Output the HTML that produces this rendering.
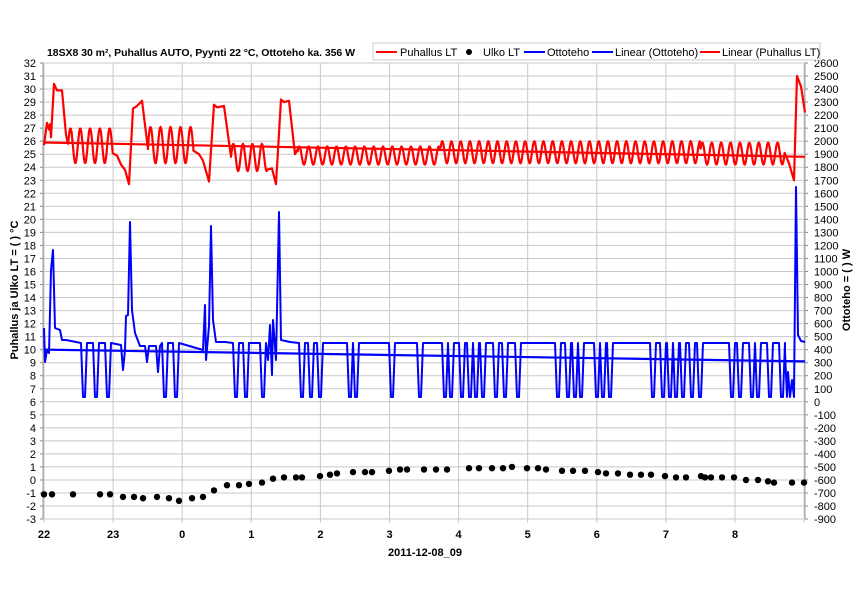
<!DOCTYPE html>
<html><head><meta charset="utf-8"><style>
body{margin:0;background:#fff;}
svg{display:block;font-family:"Liberation Sans",sans-serif;}
</style></head><body>
<svg id="s" width="860" height="608" xmlns="http://www.w3.org/2000/svg">
<rect width="860" height="608" fill="#fff"/>
<g id="grid"></g>
<g id="labels" font-size="11" fill="#000"></g>
<text x="47" y="56" font-size="10.5" font-weight="bold" textLength="308">18SX8 30 m², Puhallus AUTO, Pyynti 22 °C, Ottoteho ka. 356 W</text>
<rect x="373" y="43" width="447" height="17" fill="#fff" stroke="#ccc"/>
<line x1="376" y1="52" x2="397" y2="52" stroke="#f00" stroke-width="2"/><text x="400" y="56" font-size="11">Puhallus LT</text>
<circle cx="469" cy="52" r="3" fill="#000"/><text x="483" y="56" font-size="11">Ulko LT</text>
<line x1="524" y1="52" x2="545" y2="52" stroke="#00f" stroke-width="2"/><text x="547" y="56" font-size="11">Ottoteho</text>
<line x1="592" y1="52" x2="613" y2="52" stroke="#00f" stroke-width="2"/><text x="615" y="56" font-size="11">Linear (Ottoteho)</text>
<line x1="700" y1="52" x2="720" y2="52" stroke="#f00" stroke-width="2"/><text x="722" y="56" font-size="11">Linear (Puhallus LT)</text>
<text transform="translate(18,290) rotate(-90)" text-anchor="middle" font-size="11" font-weight="bold">Puhallus ja Ulko LT = ( ) °C</text>
<text transform="translate(850,290) rotate(-90)" text-anchor="middle" font-size="11" font-weight="bold">Ottoteho = ( ) W</text>
<text x="425" y="556" text-anchor="middle" font-size="11" font-weight="bold">2011-12-08_09</text>
<g id="series"></g>
</svg>
<script>
var NS="http://www.w3.org/2000/svg";
function el(p,t,a,txt){var e=document.createElementNS(NS,t);for(var k in a)e.setAttribute(k,a[k]);if(txt!=null)e.textContent=txt;p.appendChild(e);return e;}
var L=43,R=805,T0=63,PX=13.03;
function yT(t){return T0+(32-t)*PX;}
var g=document.getElementById('grid'),lb=document.getElementById('labels'),s=document.getElementById('series');
for(var i=0;i<=35;i++){var y=T0+i*PX;
 el(g,'line',{x1:L,x2:R,y1:y,y2:y,stroke:'#c8c8c8','stroke-width':1});
 el(g,'line',{x1:L-3,x2:L,y1:y,y2:y,stroke:'#888'});el(g,'line',{x1:R,x2:R+3,y1:y,y2:y,stroke:'#888'});
 el(lb,'text',{x:36,y:y+4,'text-anchor':'end'},String(32-i));
 el(lb,'text',{x:814,y:y+4},String(2600-i*100));}
var hrs=['22','23','0','1','2','3','4','5','6','7','8'];
for(var h=0;h<=11;h++){var x=44+h*69.1;if(x>R)x=R;
 el(g,'line',{x1:x,x2:x,y1:T0,y2:T0+35*PX+4,stroke:'#c8c8c8'});
 if(h<11)el(lb,'text',{x:x,y:538,'text-anchor':'middle','font-weight':'bold'},hrs[h]);}
el(g,'line',{x1:L,x2:L,y1:T0,y2:T0+35*PX,stroke:'#999'});
el(g,'line',{x1:R,x2:R,y1:T0,y2:T0+35*PX,stroke:'#999'});
// red series
var r=[[44,25.7],[47,27.4],[49,26.9],[50,27.3],[51,26.3],[54,30.4],[57,29.9],[62,29.9],[66,26.5],[68,25.8]];
function osc(x0,x1,per,lo,hi,arr){var mid=(lo+hi)/2,a=(hi-lo)/2;for(var x=x0+0.7;x<=x1;x+=0.7){arr.push([x,mid+a*Math.sin((x-x0)/per*2*Math.PI)]);}}
osc(68,113,9.8,24.3,27,r);
r.push([117,24.9],[121,24.2],[125,23.8],[129,22.7],[133,28.5],[137,28.7],[142,29.1],[148,25.4]);
osc(148,194,10,24.3,27.1,r);
r.push([199,25],[203,24.5],[209,22.9],[214,28.8],[217,28.6],[224,28.7],[231,24.8]);
osc(231,268,9.5,23.7,25.8,r);
r.push([272,23.9],[276,22.7],[281,29.2],[284,29],[289,29.1],[295,25],[297,25.3]);
osc(297,440,9.3,24.2,25.6,r);
osc(440,700,9.2,24.3,26.0,r);
osc(700,785,9.4,24.2,25.9,r);
r.push([789,24.3],[794,23],[797,31],[801,30.2],[805,28.2]);
el(s,'polyline',{points:r.map(function(p){return p[0].toFixed(1)+','+yT(p[1]).toFixed(1)}).join(' '),fill:'none',stroke:'#f00','stroke-width':2.2,'stroke-linejoin':'round'});
el(s,'line',{x1:44,y1:yT(25.9),x2:805,y2:yT(24.8),stroke:'#f00','stroke-width':2.2});
// blue series
var HI=343,LO=397;
var dips=[68,84,96,108,165,176,236,246,263,302,311,320,350,356,360,392,420,445,451,456,462,470,476,483,487,496,499,505,518,558,563,568,575,581,597,603,610,653,658,663,670,676,683,692,700,732,740,752,758,770,782];
var b=[[44,328],[45,362],[47,350],[49,353],[51,270],[53,250],[55,328],[60,330],[62,340],[66,340]];
var x=66;
dips.forEach(function(d){if(d<x+3)return;b.push([d-3,HI]);b.push([d-1,LO]);b.push([d+1,LO]);b.push([d+3,HI]);x=d+3;});
b.push([121,345],[123,370],[125,350],[126,316],[128,315],[130,222],[132,310],[135,333],[140,346]);
b.push([145,346],[147,362],[149,346],[156,346],[158,372],[160,346]);
b.push([203,350],[205,305],[206,360],[209,326],[211,226],[213,320],[216,342],[225,342]);
b.push([268,360],[270,325],[272,375],[273,320],[276,360],[279,212],[281,340],[290,342]);
b.push([785,352],[787,397],[788,372],[790,397],[792,380],[794,397],[796,187],[798,335],[801,341],[805,342]);
b.sort(function(a,c){return a[0]-c[0]});
el(s,'polyline',{points:b.map(function(p){return p[0]+','+p[1]}).join(' '),fill:'none',stroke:'#00f','stroke-width':2,'stroke-linejoin':'round'});
el(s,'line',{x1:44,y1:yT(10),x2:805,y2:yT(9.1),stroke:'#00f','stroke-width':2.2});
// dots
var d=[[44,-1.1],[52,-1.1],[73,-1.1],[100,-1.1],[110,-1.1],[123,-1.3],[134,-1.3],[143,-1.4],[157,-1.3],[169,-1.4],[179,-1.6],[192,-1.4],[203,-1.3],[214,-0.8],[227,-0.4],[239,-0.4],[249,-0.3],[262,-0.2],[273,0.1],[284,0.2],[296,0.2],[302,0.2],[320,0.3],[330,0.4],[337,0.5],[353,0.6],[365,0.6],[372,0.6],[389,0.7],[400,0.8],[407,0.8],[424,0.8],[436,0.8],[447,0.8],[469,0.9],[479,0.9],[492,0.9],[503,0.9],[512,1.0],[527,0.9],[538,0.9],[546,0.8],[562,0.7],[573,0.7],[585,0.7],[598,0.6],[606,0.5],[618,0.5],[630,0.4],[641,0.4],[651,0.4],[665,0.3],[676,0.2],[686,0.2],[701,0.3],[705,0.2],[711,0.2],[722,0.2],[734,0.2],[746,0.0],[758,0.0],[768,-0.1],[774,-0.2],[792,-0.2],[804,-0.2]];
d.forEach(function(p){el(s,'circle',{cx:p[0],cy:yT(p[1]).toFixed(1),r:3.2,fill:'#000'});});
</script>
</body></html>
